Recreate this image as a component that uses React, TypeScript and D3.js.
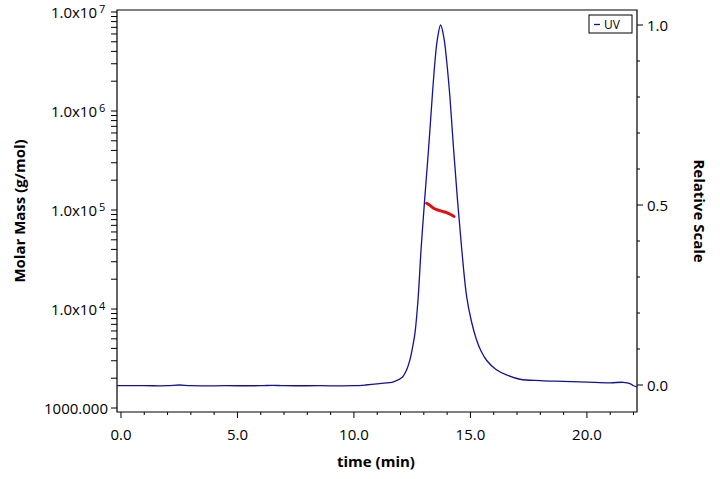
import { curveCatmullRom, line, range, scaleLinear, scaleLog } from "d3";

const W = 720;
const H = 479;
const PLOT = { left: 117, right: 637, top: 10, bottom: 412 };

// UV trace (relative scale)
const uvTime = [
  -0.2, 1.0, 2.0, 2.5, 3.0, 4.5, 6.0, 6.5, 7.0, 8.5, 10.0, 10.5, 11.1, 11.7, 12.05, 12.26, 12.4, 12.52,
  12.62, 12.75, 12.88, 13.03, 13.2, 13.36, 13.48, 13.58, 13.72, 13.86, 13.98, 14.12, 14.28, 14.45, 14.63,
  14.84, 15.05, 15.25, 15.45, 15.7, 16.1, 16.55, 17.13, 18.0, 19.0, 20.0, 21.0, 21.55, 21.85, 22.0, 22.2,
];
const uvValue = [
  -0.002, -0.002, -0.002, 0.0, -0.002, -0.002, -0.002, -0.001, -0.002, -0.002, -0.002, 0.0, 0.004, 0.009,
  0.02, 0.042, 0.069, 0.106, 0.144, 0.236, 0.375, 0.51, 0.653, 0.8, 0.9, 0.96, 1.0, 0.965, 0.9, 0.8, 0.653,
  0.51, 0.375, 0.245, 0.175, 0.128, 0.095, 0.068, 0.043, 0.028, 0.016, 0.012, 0.01, 0.008, 0.006, 0.0075,
  0.004, -0.002, -0.006,
];

// molar mass across the peak
const massTime = [13.12, 13.25, 13.4, 13.55, 13.69, 13.85, 13.98, 14.15, 14.3];
const massValue = [117000, 112000, 105000, 101000, 98500, 96000, 94000, 90000, 86000];

const leftTicks = [1e3, 1e4, 1e5, 1e6, 1e7];
const xTicks = [0, 5, 10, 15, 20];
const rightTicks = [0, 0.5, 1.0];

const FONT = "'Open Sans', 'Noto Sans', sans-serif";
const BLUE = "#12129a";
const RED = "#e01010";

export default function App() {
  const x = scaleLinear().domain([-0.17, 22.15]).range([PLOT.left, PLOT.right]);
  const yMass = scaleLog()
    .domain([Math.pow(10, 3 - 4 / 99), Math.pow(10, 7 + 2 / 99)])
    .range([PLOT.bottom, PLOT.top]);
  const yRel = scaleLinear().domain([0, 1]).range([385, 25]);

  const uvPoints = uvTime.map((t, i) => ({ t, v: uvValue[i] }));
  const massPoints = massTime.map((t, i) => ({ t, v: massValue[i] }));

  const uvPath = line<{ t: number; v: number }>()
    .x((d) => x(d.t))
    .y((d) => yRel(d.v))
    .curve(curveCatmullRom.alpha(0.5))(uvPoints);
  const massPath = line<{ t: number; v: number }>()
    .x((d) => x(d.t))
    .y((d) => yMass(d.v))
    .curve(curveCatmullRom.alpha(0.5))(massPoints);

  const minorLog: number[] = [];
  [1e3, 1e4, 1e5, 1e6].forEach((base) => {
    for (let k = 2; k <= 9; k++) minorLog.push(base * k);
  });
  const minorX = range(0, 23).filter((v) => v % 5 !== 0);
  const minorRel = range(0, 1.01, 0.1)
    .map((v) => +v.toFixed(1))
    .filter((v) => v !== 0 && v !== 0.5 && v !== 1);

  return (
    <svg width={W} height={H} style={{ display: "block", position: "absolute", left: 0, top: 0 }} fontFamily={FONT}>
      <rect width={W} height={H} fill="white" />
      <defs>
        <clipPath id="plot-clip">
          <rect x={PLOT.left} y={PLOT.top} width={PLOT.right - PLOT.left} height={PLOT.bottom - PLOT.top} />
        </clipPath>
      </defs>

      {/* frame */}
      <path
        d={`M${PLOT.left},${PLOT.bottom} V${PLOT.top} H${PLOT.right} V${PLOT.bottom} Z`}
        fill="none"
        stroke="black"
        strokeWidth={1.2}
      />

      {/* left log axis */}
      {minorLog.map((v) => (
        <line key={`ml${v}`} x1={PLOT.left - 6} x2={PLOT.left} y1={yMass(v)} y2={yMass(v)} stroke="black" />
      ))}
      {leftTicks.map((v) => {
        const y = yMass(v);
        const exp = Math.round(Math.log10(v));
        return (
          <g key={`lt${v}`}>
            <line x1={PLOT.left - 6} x2={PLOT.left} y1={y} y2={y} stroke="black" />
            {exp === 3 ? (
              <text x={108} y={y + 6} textAnchor="end" fontSize={15}>
                1000.000
              </text>
            ) : (
              <g>
                <text x={97} y={y + 6} textAnchor="end" fontSize={15}>
                  1.0x10
                </text>
                <text x={99} y={y + 0.5} fontSize={11}>
                  {exp}
                </text>
              </g>
            )}
          </g>
        );
      })}

      {/* bottom axis */}
      {minorX.map((v) => (
        <line key={`mx${v}`} x1={x(v)} x2={x(v)} y1={PLOT.bottom} y2={PLOT.bottom + 3} stroke="black" />
      ))}
      {xTicks.map((v) => (
        <g key={`xt${v}`}>
          <line x1={x(v)} x2={x(v)} y1={PLOT.bottom} y2={PLOT.bottom + 6} stroke="black" />
          <text x={x(v)} y={PLOT.bottom + 28} textAnchor="middle" fontSize={15}>
            {v.toFixed(1)}
          </text>
        </g>
      ))}

      {/* right axis */}
      {minorRel.map((v) => (
        <line key={`mr${v}`} x1={PLOT.right} x2={PLOT.right + 3} y1={yRel(v)} y2={yRel(v)} stroke="black" />
      ))}
      {rightTicks.map((v) => (
        <g key={`rt${v}`}>
          <line x1={PLOT.right} x2={PLOT.right + 6} y1={yRel(v)} y2={yRel(v)} stroke="black" />
          <text x={647} y={yRel(v) + 6} fontSize={15}>
            {v.toFixed(1)}
          </text>
        </g>
      ))}

      {/* axis titles */}
      <text x={376} y={467} textAnchor="middle" fontSize={15} fontWeight="bold">
        time (min)
      </text>
      <text
        transform={`translate(25,${(PLOT.top + PLOT.bottom) / 2}) rotate(-90)`}
        textAnchor="middle"
        fontSize={15}
        fontWeight="bold"
      >
        Molar Mass (g/mol)
      </text>
      <text
        transform={`translate(694,${(PLOT.top + PLOT.bottom) / 2}) rotate(90)`}
        textAnchor="middle"
        fontSize={15}
        fontWeight="bold"
      >
        Relative Scale
      </text>

      {/* series */}
      <g clipPath="url(#plot-clip)">
        <path d={uvPath ?? ""} fill="none" stroke={BLUE} strokeWidth={1.3} />
        <path d={massPath ?? ""} fill="none" stroke={RED} strokeWidth={3} strokeLinecap="round" />
      </g>

      {/* legend */}
      <rect x={589} y={15} width={43} height={18} fill="white" stroke="black" />
      <line x1={594} x2={600} y1={24.5} y2={24.5} stroke={BLUE} strokeWidth={1.3} />
      <text x={604} y={29} fontSize={12}>
        UV
      </text>
    </svg>
  );
}
